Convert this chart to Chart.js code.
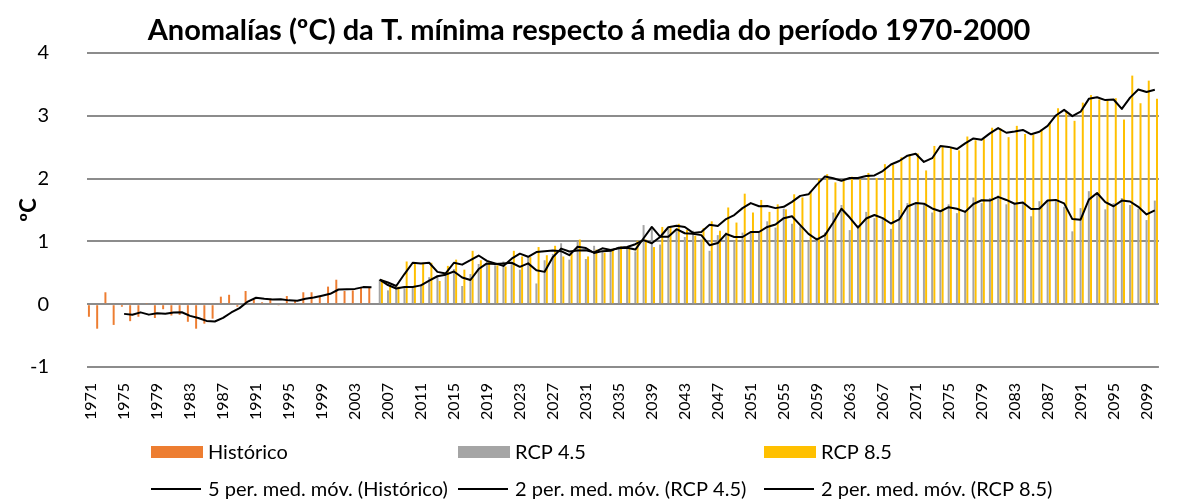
<!DOCTYPE html>
<html lang="gl">
<head>
<meta charset="utf-8">
<title>Anomalías da T. mínima</title>
<script src="https://cdn.jsdelivr.net/npm/chart.js@4.4.1/dist/chart.umd.min.js"></script>
<style>
  html, body { margin: 0; padding: 0; background: #fff; }
  #grafico { display: block; }
</style>
</head>
<body>
<canvas id="grafico" width="1190" height="503"></canvas>
<script>
// anos da serie (eixo de categorías)
const primeiroAno = 1971;
const ultimoAno = 2100;
const anos = Array.from({ length: ultimoAno - primeiroAno + 1 }, (_, i) => String(primeiroAno + i));

// anomalías observadas 1971-2005
const historico = [
  -0.20, -0.39, 0.19, -0.33, -0.04, -0.27, -0.20, 0.01, -0.22, -0.08,
  -0.18, -0.17, -0.28, -0.39, -0.31, -0.23, 0.12, 0.15, -0.04, 0.21,
  0.075, 0.03, 0.09, -0.02, 0.13, 0.05, 0.19, 0.19, 0.12, 0.28,
  0.39, 0.21, 0.22, 0.26, 0.26
];

// escenario RCP 4.5, 2006-2100
const rcp45 = [
  0.39, 0.22, 0.28, 0.27, 0.28, 0.32, 0.43, 0.46, 0.48, 0.56,
  0.29, 0.48, 0.64, 0.66, 0.62, 0.68, 0.64, 0.55, 0.75, 0.33,
  0.70, 0.80, 0.97, 0.71, 1.00, 0.72, 0.93, 0.85, 0.88, 0.90,
  0.90, 0.84, 1.26, 1.20, 0.95, 1.20, 1.19, 1.07, 1.17, 1.03,
  0.85, 1.10, 1.14, 1.00, 1.14, 1.16, 1.14, 1.32, 1.22, 1.52,
  1.28, 1.24, 1.00, 1.06, 1.14, 1.46, 1.58, 1.18, 1.26, 1.47,
  1.37, 1.37, 1.20, 1.50, 1.61, 1.61, 1.59, 1.46, 1.50, 1.59,
  1.45, 1.49, 1.70, 1.61, 1.69, 1.73, 1.59, 1.61, 1.63, 1.40,
  1.64, 1.66, 1.66, 1.55, 1.16, 1.53, 1.80, 1.74, 1.51, 1.61,
  1.69, 1.58, 1.52, 1.34, 1.65
];

// escenario RCP 8.5, 2006-2100
const rcp85 = [
  0.39, 0.30, 0.28, 0.68, 0.64, 0.66, 0.66, 0.37, 0.61, 0.71,
  0.55, 0.85, 0.70, 0.68, 0.62, 0.60, 0.85, 0.76, 0.75, 0.91,
  0.78, 0.93, 0.76, 0.80, 1.03, 0.76, 0.87, 0.82, 0.88, 0.92,
  0.90, 1.01, 1.03, 0.91, 1.23, 1.22, 1.28, 1.18, 1.09, 1.21,
  1.32, 1.17, 1.54, 1.30, 1.76, 1.46, 1.66, 1.47, 1.59, 1.51,
  1.75, 1.70, 1.80, 2.00, 2.07, 1.94, 1.99, 2.03, 1.99, 2.09,
  2.01, 2.23, 2.22, 2.34, 2.39, 2.40, 2.13, 2.52, 2.52, 2.49,
  2.45, 2.67, 2.61, 2.63, 2.81, 2.80, 2.66, 2.84, 2.71, 2.70,
  2.79, 2.89, 3.12, 3.07, 2.92, 3.21, 3.33, 3.26, 3.24, 3.28,
  2.94, 3.64, 3.20, 3.56, 3.27
];

const titulo = "Anomalías (ºC) da T. mínima respecto á media do período 1970-2000";
const tituloEixoY = "ºC";

const corHistorico = "#ED7D31";
const cor45 = "#A5A5A5";
const cor85 = "#FFC000";
const corGrella = "#8C8C8C";

// media móbil dos últimos `periodo` valores
function mediaMovel(valores, periodo, xanelaCompleta) {
  return valores.map((v, i) => {
    const xanela = valores.slice(Math.max(0, i - periodo + 1), i + 1);
    if (xanelaCompleta && xanela.length < periodo) return null;
    return xanela.reduce((a, b) => a + b, 0) / xanela.length;
  });
}

// encha con null os anos sen datos da serie
function situar(valores, anoInicio) {
  const saida = new Array(anos.length).fill(null);
  const desde = anoInicio - primeiroAno;
  valores.forEach((v, i) => { saida[desde + i] = v; });
  return saida;
}

// lenda en tres columnas: barras arriba, medias móbiles abaixo
const lendaExcel = {
  id: "lendaExcel",
  afterDraw(chart) {
    const ctx = chart.ctx;
    const colunas = [151, 458, 764];
    const filas = [452, 489];
    ctx.save();
    ctx.font = "20px Lato";
    ctx.textBaseline = "middle";
    chart.data.datasets.forEach((ds, i) => {
      const x = colunas[i % 3];
      const y = filas[Math.floor(i / 3)];
      if (ds.type === "line") {
        ctx.strokeStyle = ds.borderColor;
        ctx.lineWidth = ds.borderWidth;
        ctx.beginPath();
        ctx.moveTo(x, y);
        ctx.lineTo(x + 50, y);
        ctx.stroke();
      } else {
        ctx.fillStyle = ds.backgroundColor;
        ctx.fillRect(x, y - 6, 52, 12);
      }
      ctx.fillStyle = "#000";
      ctx.fillText(ds.label, x + 57, y + 1);
    });
    ctx.restore();
  }
};

const tituloExcel = {
  id: "tituloExcel",
  afterDraw(chart) {
    const ctx = chart.ctx;
    ctx.save();
    ctx.font = "bold 29px Lato";
    ctx.textAlign = "center";
    ctx.textBaseline = "alphabetic";
    ctx.fillStyle = "#000";
    ctx.fillText(titulo, 589, 40);
    ctx.restore();
  }
};

new Chart(document.getElementById("grafico"), {
  type: "bar",
  data: {
    labels: anos,
    datasets: [
      { label: "Histórico", data: situar(historico, 1971), backgroundColor: corHistorico, order: 1 },
      { label: "RCP 4.5", data: situar(rcp45, 2006), backgroundColor: cor45, order: 1 },
      { label: "RCP 8.5", data: situar(rcp85, 2006), backgroundColor: cor85, order: 1 },
      {
        type: "line", label: "5 per. med. móv. (Histórico)",
        data: situar(mediaMovel(historico, 5, true), 1971),
        borderColor: "#000", borderWidth: 2, pointRadius: 0, order: 0
      },
      {
        type: "line", label: "2 per. med. móv. (RCP 4.5)",
        data: situar(mediaMovel(rcp45, 2, false), 2006),
        borderColor: "#000", borderWidth: 2, pointRadius: 0, order: 0
      },
      {
        type: "line", label: "2 per. med. móv. (RCP 8.5)",
        data: situar(mediaMovel(rcp85, 2, false), 2006),
        borderColor: "#000", borderWidth: 2, pointRadius: 0, order: 0
      }
    ]
  },
  options: {
    responsive: false,
    animation: false,
    devicePixelRatio: 1,
    layout: { padding: { top: 53, right: 0, bottom: 0, left: 0 } },
    datasets: {
      bar: { categoryPercentage: 0.8, barPercentage: 0.9 },
      line: { borderJoinStyle: "round", tension: 0 }
    },
    plugins: {
      legend: { display: false },
      title: { display: false },
      tooltip: { enabled: false }
    },
    scales: {
      x: {
        grid: { display: false, drawTicks: false },
        border: { display: false },
        ticks: {
          autoSkip: false,
          minRotation: 90,
          maxRotation: 90,
          padding: 16,
          color: "#000",
          font: { family: "Lato", size: 16 },
          callback: function (valor, indice) {
            return indice % 4 === 0 ? this.getLabelForValue(valor) : "";
          }
        },
        afterFit(eixo) { eixo.height = 136; }
      },
      y: {
        min: -1,
        max: 4,
        ticks: {
          stepSize: 1,
          padding: 38,
          color: "#000",
          font: { family: "Lato", size: 20 }
        },
        grid: { color: corGrella, lineWidth: 2, drawTicks: false },
        border: { display: false },
        title: {
          display: true,
          text: tituloEixoY,
          color: "#000",
          font: { family: "Lato", size: 22, weight: "bold" },
          padding: { top: 16, bottom: 0 }
        },
        afterFit(eixo) { eixo.width = 87; }
      }
    }
  },
  plugins: [tituloExcel, lendaExcel]
});
</script>
</body>
</html>
